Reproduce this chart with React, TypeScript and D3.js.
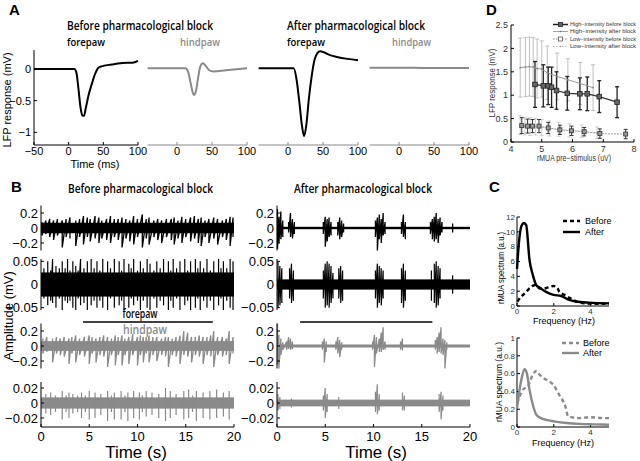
import React from 'react';
import * as d3 from 'd3';

type Pt = [number, number];
type Ev = [number, number, number];

// ---------- Panel A : mean LFP responses (time in ms, mV) ----------
const aForeBefore: Pt[] = [[-50,0],[0,0],[8,0],[11,-0.05],[14,-0.3],[17,-0.6],[20,-0.74],[22,-0.74],[25,-0.6],[29,-0.4],[33,-0.25],[38,-0.08],[43,0.02],[50,0.05],[62,0.07],[75,0.09],[85,0.1],[92,0.1],[100,0.13]];
const aHindBefore: Pt[] = [[-42,0.01],[12,0.01],[16,-0.05],[20,-0.25],[24,-0.41],[27,-0.35],[30,-0.15],[33,0.03],[37,0.09],[41,0.05],[46,-0.02],[52,-0.04],[70,-0.02],[100,0.01]];
const aForeAfter: Pt[] = [[-42,0.01],[8,0.01],[12,-0.15],[16,-0.5],[20,-0.9],[23,-1.06],[26,-0.9],[30,-0.45],[34,-0.1],[38,0.15],[42,0.25],[46,0.28],[52,0.26],[60,0.22],[70,0.19],[85,0.16],[100,0.14]];
const aHindAfter: Pt[] = [[-42,0.02],[20,0.02],[50,0.015],[100,0.015]];
const aYTicks = [-1, -0.5, 0];
const aYTickLabels = ['−1', '−0.5', '0'];
const aXTicksFirst = [-50, 0, 50, 100];
const aXTicks = [0, 50, 100];

// ---------- Panel B : raw traces, events [time s, max, min] ----------
const bTimeTicks = [0, 5, 10, 15, 20];
const bLfpTicks = [-0.2, 0, 0.2];
const bLfpTickLabels = ['−0.2', '0', '0.2'];
const bMuaForeTicks = [-0.05, 0, 0.05];
const bMuaForeTickLabels = ['−0.05', '0', '0.05'];
const bMuaHindTicks = [-0.02, 0, 0.02];
const bMuaHindTickLabels = ['−0.02', '0', '0.02'];
const bStimBefore = [4.35, 17.8];
const bStimAfter = [2.4, 16.1];
const bBandBefore = [0.07, 0.026, 0.065, 0.0075];
const bBandAfter = [0.016, 0.011, 0.02, 0.0045];

const beforeForeLfp: Ev[] = [[0.1,0.08,-0.1],[0.5,0.1,-0.08],[0.9,0.12,-0.12],[1.3,0.1,-0.16],[1.7,0.12,-0.1],[2.2,0.1,-0.26],[2.6,0.12,-0.12],[3.0,0.14,-0.14],[3.6,0.1,-0.24],[4.0,0.12,-0.12],[4.4,0.16,-0.22],[4.8,0.14,-0.12],[5.1,0.12,-0.18],[5.6,0.16,-0.14],[6.0,0.14,-0.2],[6.3,0.1,-0.14],[6.8,0.12,-0.16],[7.2,0.16,-0.2],[7.6,0.12,-0.12],[8.0,0.12,-0.16],[8.4,0.14,-0.26],[8.8,0.12,-0.14],[9.2,0.1,-0.18],[9.6,0.16,-0.22],[10.0,0.12,-0.12],[10.5,0.18,-0.26],[10.9,0.12,-0.14],[11.2,0.14,-0.22],[11.7,0.1,-0.12],[12.1,0.12,-0.16],[12.5,0.1,-0.2],[13.0,0.12,-0.12],[13.5,0.12,-0.16],[13.8,0.14,-0.22],[14.2,0.1,-0.14],[14.6,0.15,-0.2],[15.0,0.12,-0.12],[15.5,0.14,-0.18],[15.9,0.16,-0.14],[16.3,0.12,-0.2],[16.6,0.14,-0.24],[17.0,0.1,-0.12],[17.4,0.12,-0.2],[17.9,0.14,-0.14],[18.3,0.12,-0.22],[18.8,0.1,-0.12],[19.2,0.12,-0.16],[19.6,0.15,-0.24],[19.9,0.14,-0.12]];
const beforeForeMua: Ev[] = [[0.3,0.035,-0.03],[0.7,0.05,-0.045],[1.0,0.03,-0.035],[1.2,0.055,-0.04],[1.55,0.04,-0.05],[1.9,0.035,-0.03],[2.2,0.05,-0.055],[2.5,0.035,-0.035],[2.75,0.055,-0.04],[3.0,0.03,-0.035],[3.3,0.05,-0.05],[3.6,0.04,-0.055],[3.85,0.03,-0.03],[4.1,0.055,-0.045],[4.45,0.035,-0.04],[4.8,0.05,-0.055],[5.2,0.055,-0.045],[5.5,0.035,-0.035],[5.8,0.05,-0.05],[6.1,0.03,-0.035],[6.4,0.055,-0.05],[6.9,0.05,-0.055],[7.2,0.035,-0.03],[7.6,0.055,-0.05],[8.1,0.05,-0.045],[8.35,0.03,-0.035],[8.6,0.055,-0.055],[9.1,0.045,-0.05],[9.35,0.035,-0.03],[9.6,0.055,-0.045],[10.0,0.03,-0.035],[10.3,0.05,-0.055],[10.6,0.035,-0.035],[11.0,0.055,-0.05],[11.3,0.045,-0.055],[11.7,0.03,-0.03],[12.0,0.05,-0.05],[12.35,0.035,-0.035],[12.7,0.055,-0.045],[13.2,0.05,-0.055],[13.45,0.03,-0.035],[13.7,0.055,-0.05],[14.05,0.035,-0.03],[14.4,0.05,-0.055],[14.9,0.055,-0.045],[15.2,0.03,-0.035],[15.5,0.05,-0.055],[16.0,0.055,-0.05],[16.25,0.035,-0.03],[16.5,0.05,-0.055],[16.85,0.035,-0.035],[17.2,0.055,-0.05],[17.55,0.03,-0.035],[17.9,0.05,-0.055],[18.4,0.055,-0.045],[18.65,0.035,-0.03],[18.9,0.05,-0.055],[19.25,0.035,-0.035],[19.6,0.055,-0.05],[19.9,0.05,-0.055]];
const beforeHindLfp: Ev[] = [[0.2,0.1,-0.1],[0.6,0.12,-0.08],[1.2,0.1,-0.22],[1.6,0.12,-0.1],[2.0,0.1,-0.12],[2.4,0.12,-0.14],[2.9,0.1,-0.24],[3.2,0.12,-0.1],[3.6,0.14,-0.22],[4.0,0.1,-0.12],[4.5,0.12,-0.14],[5.0,0.14,-0.24],[5.3,0.12,-0.1],[5.7,0.1,-0.22],[6.1,0.12,-0.12],[6.5,0.14,-0.14],[6.9,0.12,-0.28],[7.3,0.1,-0.12],[7.7,0.14,-0.26],[8.0,0.12,-0.12],[8.4,0.14,-0.26],[8.7,0.1,-0.12],[9.1,0.12,-0.24],[9.5,0.16,-0.12],[10.0,0.12,-0.26],[10.3,0.14,-0.12],[10.6,0.12,-0.22],[10.9,0.12,-0.1],[11.2,0.14,-0.22],[11.6,0.12,-0.12],[12.0,0.12,-0.2],[12.5,0.1,-0.12],[12.9,0.12,-0.14],[13.2,0.12,-0.28],[13.6,0.1,-0.12],[14.0,0.12,-0.14],[14.4,0.14,-0.24],[14.8,0.2,-0.12],[15.2,0.18,-0.14],[15.6,0.12,-0.22],[16.0,0.12,-0.12],[16.4,0.14,-0.14],[16.8,0.12,-0.24],[17.2,0.12,-0.12],[17.6,0.14,-0.14],[17.9,0.2,-0.28],[18.3,0.12,-0.12],[18.8,0.12,-0.14],[19.2,0.1,-0.12],[19.5,0.2,-0.24],[19.9,0.12,-0.1]];
const beforeHindMua: Ev[] = [[0.5,0.012,-0.014],[1.0,0.014,-0.016],[1.5,0.01,-0.012],[2.2,0.016,-0.022],[2.6,0.01,-0.012],[2.9,0.014,-0.02],[3.3,0.012,-0.014],[3.8,0.01,-0.012],[4.2,0.014,-0.02],[4.6,0.01,-0.012],[5.0,0.016,-0.022],[5.6,0.014,-0.02],[6.2,0.012,-0.016],[6.9,0.016,-0.024],[7.3,0.01,-0.012],[7.6,0.014,-0.022],[8.3,0.016,-0.022],[8.7,0.01,-0.012],[9.0,0.014,-0.024],[9.6,0.016,-0.02],[10.2,0.014,-0.022],[10.5,0.01,-0.012],[10.9,0.016,-0.018],[11.5,0.014,-0.016],[12.2,0.012,-0.02],[12.9,0.02,-0.024],[13.4,0.016,-0.02],[14.0,0.012,-0.016],[14.8,0.016,-0.022],[15.3,0.018,-0.02],[15.7,0.01,-0.012],[16.1,0.016,-0.024],[16.8,0.014,-0.02],[17.5,0.016,-0.022],[18.2,0.018,-0.02],[18.9,0.014,-0.018],[19.5,0.016,-0.022]];

const afterForeLfp: Ev[] = [[0.05,0.25,-0.28],[0.2,0.15,-0.2],[0.4,0.22,-0.15],[0.6,0.1,-0.12],[1.2,0.08,-0.06],[1.4,0.2,-0.12],[1.6,0.12,-0.14],[1.8,0.08,-0.08],[4.8,0.08,-0.08],[5.0,0.15,-0.25],[5.2,0.12,-0.18],[5.4,0.14,-0.12],[5.6,0.08,-0.1],[6.3,0.08,-0.1],[6.5,0.14,-0.15],[6.7,0.1,-0.12],[6.9,0.06,-0.06],[10.2,0.1,-0.12],[10.4,0.14,-0.3],[10.6,0.18,-0.15],[10.8,0.12,-0.2],[11.0,0.2,-0.1],[11.2,0.08,-0.08],[12.9,0.08,-0.08],[13.1,0.18,-0.12],[13.3,0.08,-0.15],[15.9,0.08,-0.08],[16.1,0.12,-0.15],[16.3,0.15,-0.18],[16.5,0.2,-0.15],[16.7,0.12,-0.2],[16.9,0.14,-0.1],[17.1,0.08,-0.06],[18.2,0.06,-0.06]];
const afterForeMua: Ev[] = [[0.1,0.05,-0.05],[0.3,0.04,-0.045],[0.5,0.035,-0.04],[1.3,0.035,-0.03],[1.5,0.045,-0.04],[1.7,0.03,-0.035],[4.8,0.03,-0.03],[5.0,0.045,-0.05],[5.2,0.05,-0.045],[5.4,0.045,-0.05],[5.6,0.04,-0.04],[5.8,0.025,-0.03],[6.4,0.035,-0.03],[6.6,0.04,-0.04],[6.8,0.03,-0.035],[10.2,0.03,-0.03],[10.4,0.045,-0.05],[10.6,0.04,-0.04],[10.8,0.035,-0.045],[11.0,0.03,-0.03],[12.9,0.035,-0.04],[13.1,0.045,-0.05],[13.3,0.03,-0.035],[16.0,0.03,-0.035],[16.3,0.045,-0.04],[16.5,0.05,-0.05],[16.7,0.04,-0.045],[16.9,0.035,-0.03],[18.2,0.02,-0.02]];
const afterHindLfp: Ev[] = [[0.05,0.3,-0.25],[0.2,0.15,-0.3],[0.4,0.1,-0.12],[0.6,0.05,-0.05],[1.0,0.06,-0.05],[1.2,0.12,-0.04],[1.4,0.1,-0.05],[1.6,0.06,-0.04],[4.7,0.06,-0.05],[4.9,0.1,-0.22],[5.1,0.06,-0.08],[6.1,0.06,-0.05],[6.3,0.12,-0.1],[6.5,0.08,-0.15],[6.7,0.05,-0.05],[9.9,0.06,-0.05],[10.1,0.15,-0.28],[10.3,0.12,-0.1],[10.6,0.1,-0.08],[10.8,0.18,-0.08],[11.0,0.25,-0.05],[11.2,0.06,-0.05],[12.8,0.06,-0.05],[13.0,0.1,-0.06],[16.4,0.08,-0.05],[16.6,0.12,-0.1],[16.8,0.18,-0.08],[17.0,0.25,-0.1],[17.2,0.1,-0.12],[17.4,0.08,-0.3],[17.6,0.05,-0.05]];
const afterHindMua: Ev[] = [[0.1,0.012,-0.01],[0.3,0.008,-0.008],[1.5,0.006,-0.006],[4.8,0.01,-0.01],[5.0,0.02,-0.02],[5.2,0.012,-0.012],[6.4,0.008,-0.008],[10.2,0.015,-0.012],[10.4,0.025,-0.015],[10.6,0.012,-0.01],[13.0,0.014,-0.01],[13.2,0.01,-0.01],[16.8,0.012,-0.012],[17.0,0.015,-0.022],[17.2,0.01,-0.01]];

// ---------- Panel C : spectra ----------
const cFreqAfterTop = [0, 0.1, 0.23, 0.38, 0.5, 0.68, 0.86, 1.05, 1.22, 1.58, 1.98, 2.4, 2.76, 3.2, 3.93, 5.0];
const cAfterTop = [5, 8.4, 10.7, 11.2, 10.9, 6.2, 4.2, 2.8, 2.5, 1.9, 1.5, 1.35, 0.9, 0.6, 0.45, 0.35];
const cFreqBeforeTop = [0.02, 0.23, 0.5, 0.77, 0.95, 1.2, 1.45, 1.68, 1.98, 2.2, 2.3, 2.58, 3.0, 3.4, 4.1, 5.0];
const cBeforeTop = [0.6, 1.25, 1.9, 2.6, 2.8, 2.4, 2.35, 2.5, 2.7, 2.4, 1.9, 1.5, 0.9, 0.45, 0.3, 0.3];
const cFreqBeforeBot = [0, 0.14, 0.32, 0.6, 0.86, 1.05, 1.22, 1.58, 1.95, 2.3, 2.63, 2.78, 3.4, 3.93, 4.74, 5.0];
const cBeforeBot = [0.27, 0.34, 0.42, 0.46, 0.59, 0.63, 0.59, 0.53, 0.48, 0.36, 0.23, 0.12, 0.1, 0.11, 0.1, 0.1];
const cFreqAfterBot = [0, 0.14, 0.29, 0.41, 0.54, 0.68, 0.86, 1.05, 1.3, 1.6, 2.1, 2.7, 3.4, 4.2, 5.0];
const cAfterBot = [0.21, 0.42, 0.58, 0.65, 0.6, 0.42, 0.25, 0.14, 0.1, 0.08, 0.06, 0.045, 0.035, 0.03, 0.025];
const cTopYTicks = [0, 2, 4, 6, 8, 10, 12];
const cBotYTicks = [0, 0.2, 0.4, 0.6, 0.8, 1];
const cXTicks = [0, 2, 4];

// ---------- Panel D : LFP vs rMUA ----------
const dXHiBefore = [4.78, 5.05, 5.21, 5.32, 5.48, 5.83, 6.24, 6.48, 6.87, 7.45];
const dYHiBefore = [1.23, 1.2, 1.2, 1.17, 1.1, 1.04, 1.03, 1.03, 0.97, 0.85];
const dEHiBefore = [0.49, 0.45, 0.4, 0.43, 0.4, 0.36, 0.34, 0.36, 0.34, 0.33];
const dXHiAfter = [4.3, 4.47, 4.6, 4.72, 4.85, 5.0, 5.18, 5.5, 5.85, 6.25, 6.67];
const dYHiAfter = [1.59, 1.6, 1.61, 1.6, 1.57, 1.56, 1.48, 1.4, 1.33, 1.25, 1.16];
const dEHiAfter = [0.63, 0.63, 0.63, 0.63, 0.63, 0.6, 0.57, 0.5, 0.45, 0.45, 0.49];
const dXLoBefore = [4.35, 4.54, 4.7, 4.91, 5.21, 5.59, 5.97, 6.38, 6.89, 7.73];
const dYLoBefore = [0.35, 0.34, 0.34, 0.34, 0.3, 0.26, 0.24, 0.22, 0.18, 0.17];
const dELoBefore = [0.17, 0.15, 0.14, 0.14, 0.12, 0.1, 0.1, 0.09, 0.1, 0.1];
const dXLoAfter = [4.3, 4.45, 4.62, 4.8, 5.0, 5.25, 5.55, 5.9, 6.3, 6.8];
const dYLoAfter = [0.36, 0.34, 0.33, 0.33, 0.31, 0.29, 0.27, 0.25, 0.23, 0.2];
const dELoAfter = [0.2, 0.19, 0.19, 0.18, 0.17, 0.16, 0.15, 0.14, 0.13, 0.12];
const dXTicks = [4, 5, 6, 7, 8];
const dYTicks = [0, 0.5, 1, 1.5, 2, 2.5];
const dLegend = ['High−intensity before block', 'High−intensity after block', 'Low−intensity before block', 'Low−intensity after block'];

const SANS = "'Liberation Sans', Arial, Helvetica, sans-serif";
const TITLE = "'Open Sans', 'Noto Sans', sans-serif";
const GRAY = '#8a8a8a';

type Lin = d3.ScaleLinear<number, number>;

function YAxis({ s, x, ticks, labels, fs, color = '#000', textColor = '#000', gap = 3 }: { s: Lin; x: number; ticks: number[]; labels?: string[]; fs: number; color?: string; textColor?: string; gap?: number }) {
  const [r0, r1] = s.range();
  return (
    <g>
      <line x1={x} x2={x} y1={r0} y2={r1} stroke={color} strokeWidth={1} />
      {ticks.map((t, i) => (
        <g key={i}>
          <line x1={x} x2={x + 3} y1={s(t)} y2={s(t)} stroke={color} strokeWidth={1} />
          <text x={x - gap} y={s(t)} dy="0.35em" textAnchor="end" fontSize={fs} fontFamily={SANS} fill={textColor}>
            {labels ? labels[i] : String(t)}
          </text>
        </g>
      ))}
    </g>
  );
}

function XAxis({ s, y, ticks, labels, fs, labelY, color = '#000', textColor = '#000' }: { s: Lin; y: number; ticks: number[]; labels?: string[]; fs: number; labelY: number; color?: string; textColor?: string }) {
  const [r0, r1] = s.range();
  return (
    <g>
      <line x1={r0} x2={r1} y1={y} y2={y} stroke={color} strokeWidth={1} />
      {ticks.map((t, i) => (
        <g key={i}>
          <line x1={s(t)} x2={s(t)} y1={y} y2={y - 3} stroke={color} strokeWidth={1} />
          <text x={s(t)} y={labelY} textAnchor="middle" fontSize={fs} fontFamily={SANS} fill={textColor}>
            {labels ? labels[i] : String(t)}
          </text>
        </g>
      ))}
    </g>
  );
}

function Trace({ x, y, band, events, color, maxGap, width }: { x: Lin; y: Lin; band: number; events: Ev[]; color: string; maxGap: number; width: number }) {
  const groups: Ev[][] = [];
  events.forEach((e) => {
    const g = groups[groups.length - 1];
    if (g && e[0] - g[g.length - 1][0] < maxGap) g.push(e);
    else groups.push([e]);
  });
  const line = d3.line<Pt>().x((d) => x(d[0])).y((d) => y(d[1]));
  const [x0, x1] = x.domain();
  return (
    <g>
      <rect x={x(x0)} width={x(x1) - x(x0)} y={y(band)} height={y(-band) - y(band)} fill={color} />
      {groups.map((g, i) => {
        const pts: Pt[] = [];
        g.forEach((e) => { pts.push([e[0], e[1]]); pts.push([e[0], e[2]]); });
        return <path key={i} d={line(pts) || ''} fill="none" stroke={color} strokeWidth={width} strokeLinejoin="miter" />;
      })}
    </g>
  );
}

export default function App() {
  // ---- A ----
  const aY = d3.scaleLinear().domain([-1.2, 0.3]).range([145, 50]);
  const aX1 = d3.scaleLinear().domain([-50, 100]).range([34, 138]);
  const mkA = (zero: number) => d3.scaleLinear().domain([-42, 100]).range([zero - 42 * 0.7, zero + 70]);
  const aX2 = mkA(177), aX3 = mkA(288), aX4 = mkA(399);
  const aLine = (sx: Lin) => d3.line<Pt>().x((d) => sx(d[0])).y((d) => aY(d[1])).curve(d3.curveMonotoneX);

  // ---- B ----
  const bXL = d3.scaleLinear().domain([0, 20]).range([41, 234]);
  const bXR = d3.scaleLinear().domain([0, 20]).range([277, 470]);
  const bY = [
    d3.scaleLinear().domain([-0.3, 0.3]).range([250.5, 205.5]).clamp(true),
    d3.scaleLinear().domain([-0.055, 0.055]).range([310, 259]).clamp(true),
    d3.scaleLinear().domain([-0.3, 0.3]).range([368.5, 323.5]).clamp(true),
    d3.scaleLinear().domain([-0.032, 0.028]).range([427, 382]).clamp(true),
  ];
  const bTicks = [bLfpTicks, bMuaForeTicks, bLfpTicks, bMuaHindTicks];
  const bTickLabels = [bLfpTickLabels, bMuaForeTickLabels, bLfpTickLabels, bMuaHindTickLabels];
  const beforeEvents = [beforeForeLfp, beforeForeMua, beforeHindLfp, beforeHindMua];
  const afterEvents = [afterForeLfp, afterForeMua, afterHindLfp, afterHindMua];
  const bColors = ['#000', '#000', GRAY, GRAY];
  const bGaps = [0.6, 0.25, 0.6, 0.25];
  const bWidths = [1.3, 1.2, 1.3, 1.2];

  // ---- C ----
  const cX = d3.scaleLinear().domain([0, 5]).range([517, 609]);
  const cYT = d3.scaleLinear().domain([0, 12]).range([306, 217]);
  const cYB = d3.scaleLinear().domain([0, 1]).range([427, 338]);
  const cLine = (sy: Lin, fx: number[], v: number[]) =>
    d3.line<number>().x((_, i) => cX(fx[i])).y((d) => sy(d)).curve(d3.curveMonotoneX)(v) || '';

  // ---- D ----
  const dX = d3.scaleLinear().domain([4, 8]).range([511, 634]);
  const dY = d3.scaleLinear().domain([0, 2.5]).range([142, 25]);
  const dLine = (xs: number[], ys: number[]) => d3.line<number>().x((_, i) => dX(xs[i])).y((d) => dY(d))(ys) || '';
  const errBars = (xs: number[], ys: number[], es: number[], color: string, w: number) =>
    xs.map((xv, i) => (
      <g key={i} stroke={color} strokeWidth={w}>
        <line x1={dX(xv)} x2={dX(xv)} y1={dY(ys[i] - es[i])} y2={dY(ys[i] + es[i])} />
        <line x1={dX(xv) - 2} x2={dX(xv) + 2} y1={dY(ys[i] - es[i])} y2={dY(ys[i] - es[i])} />
        <line x1={dX(xv) - 2} x2={dX(xv) + 2} y1={dY(ys[i] + es[i])} y2={dY(ys[i] + es[i])} />
      </g>
    ));

  const legendRows = [24.5, 31.5, 39, 46.5];

  return (
    <svg width={640} height={461} style={{ position: 'absolute', left: 0, top: 0, background: '#fff' }}>
      <rect width={640} height={461} fill="#fff" />
      {/* ===== Panel A ===== */}
      <text x={9} y={15} fontSize={15} fontWeight="bold" fontFamily={SANS}>A</text>
      <text x={67} y={30} fontSize={12.5} fontWeight={600} fontFamily={TITLE} textLength={146} lengthAdjust="spacingAndGlyphs">Before pharmacological block</text>
      <text x={287} y={30} fontSize={12.5} fontWeight={600} fontFamily={TITLE} textLength={138} lengthAdjust="spacingAndGlyphs">After pharmacological block</text>
      <text x={67} y={46} fontSize={11.5} fontWeight={600} fontFamily={TITLE} textLength={38} lengthAdjust="spacingAndGlyphs">forepaw</text>
      <text x={180} y={46} fontSize={11.5} fontWeight={600} fontFamily={TITLE} fill={GRAY} textLength={40} lengthAdjust="spacingAndGlyphs">hindpaw</text>
      <text x={287} y={46} fontSize={11.5} fontWeight={600} fontFamily={TITLE} textLength={38} lengthAdjust="spacingAndGlyphs">forepaw</text>
      <text x={392} y={46} fontSize={11.5} fontWeight={600} fontFamily={TITLE} fill={GRAY} textLength={39} lengthAdjust="spacingAndGlyphs">hindpaw</text>

      <YAxis s={aY} x={34} ticks={aYTicks} labels={aYTickLabels} fs={11} />
      <XAxis s={aX1} y={145} ticks={aXTicksFirst} labels={aXTicksFirst.map((t) => (t < 0 ? '−' + Math.abs(t) : String(t)))} fs={11} labelY={155} />
      <XAxis s={aX2} y={145} ticks={aXTicks} fs={11} labelY={155} color="#888" />
      <XAxis s={aX3} y={145} ticks={aXTicks} fs={11} labelY={155} color="#888" />
      <XAxis s={aX4} y={145} ticks={aXTicks} fs={11} labelY={155} color="#888" />
      <path d={aLine(aX1)(aForeBefore) || ''} fill="none" stroke="#000" strokeWidth={2} />
      <path d={aLine(aX2)(aHindBefore) || ''} fill="none" stroke={GRAY} strokeWidth={2} />
      <path d={aLine(aX3)(aForeAfter) || ''} fill="none" stroke="#000" strokeWidth={2} />
      <path d={aLine(aX4)(aHindAfter) || ''} fill="none" stroke={GRAY} strokeWidth={2} />
      <text transform="translate(11,100) rotate(-90)" textAnchor="middle" fontSize={11} fontFamily={SANS}>LFP response (mV)</text>
      <text x={95} y={168} textAnchor="middle" fontSize={11} fontFamily={SANS}>Time (ms)</text>

      {/* ===== Panel D ===== */}
      <text x={486} y={15} fontSize={15} fontWeight="bold" fontFamily={SANS}>D</text>
      <YAxis s={dY} x={511} ticks={dYTicks} fs={9} textColor="#333" />
      <XAxis s={dX} y={142} ticks={dXTicks} fs={9} labelY={152} textColor="#333" />
      <text transform="translate(495,83) rotate(-90)" textAnchor="middle" fontSize={9} fontFamily={SANS} fill="#333" textLength={69} lengthAdjust="spacingAndGlyphs">LFP response (mV)</text>
      <text x={574} y={161} textAnchor="middle" fontSize={9} fontFamily={SANS} fill="#333" textLength={74} lengthAdjust="spacingAndGlyphs">rMUA pre−stimulus (uV)</text>
      {errBars(dXLoAfter, dYLoAfter, dELoAfter, '#c4c4c4', 0.8)}
      {errBars(dXHiAfter, dYHiAfter, dEHiAfter, '#b0b0b0', 0.8)}
      {errBars(dXLoBefore, dYLoBefore, dELoBefore, '#333', 1)}
      {errBars(dXHiBefore, dYHiBefore, dEHiBefore, '#222', 1.3)}
      <path d={dLine(dXLoAfter, dYLoAfter)} fill="none" stroke="#bbb" strokeWidth={0.8} strokeDasharray="1.5,1.5" />
      <path d={dLine(dXHiAfter, dYHiAfter)} fill="none" stroke="#999" strokeWidth={1} />
      <path d={dLine(dXLoBefore, dYLoBefore)} fill="none" stroke="#666" strokeWidth={0.8} strokeDasharray="1.5,1.5" />
      <path d={dLine(dXHiBefore, dYHiBefore)} fill="none" stroke="#333" strokeWidth={1.3} />
      {dXHiAfter.map((xv, i) => <circle key={i} cx={dX(xv)} cy={dY(dYHiAfter[i])} r={0.9} fill="#888" />)}
      {dXLoAfter.map((xv, i) => <circle key={i} cx={dX(xv)} cy={dY(dYLoAfter[i])} r={0.8} fill="#aaa" />)}
      {dXLoBefore.map((xv, i) => <rect key={i} x={dX(xv) - 2} y={dY(dYLoBefore[i]) - 2} width={4} height={4} fill="#999" stroke="#333" strokeWidth={0.8} />)}
      {dXHiBefore.map((xv, i) => <rect key={i} x={dX(xv) - 2.3} y={dY(dYHiBefore[i]) - 2.3} width={4.6} height={4.6} fill="#666" stroke="#222" strokeWidth={0.8} />)}
      {/* legend */}
      <g>
        <line x1={553} x2={568} y1={legendRows[0]} y2={legendRows[0]} stroke="#222" strokeWidth={1.5} />
        <rect x={558.5} y={legendRows[0] - 2} width={4} height={4} fill="#666" stroke="#222" strokeWidth={0.8} />
        <line x1={553} x2={568} y1={legendRows[1]} y2={legendRows[1]} stroke="#888" strokeWidth={0.8} />
        <circle cx={560.5} cy={legendRows[1]} r={0.8} fill="#666" />
        <line x1={553} x2={568} y1={legendRows[2]} y2={legendRows[2]} stroke="#666" strokeWidth={0.8} strokeDasharray="1.5,1.5" />
        <rect x={558.5} y={legendRows[2] - 2} width={4} height={4} fill="#fff" stroke="#555" strokeWidth={0.8} />
        <line x1={553} x2={568} y1={legendRows[3]} y2={legendRows[3]} stroke="#aaa" strokeWidth={0.8} strokeDasharray="1.5,1.5" />
        <circle cx={560.5} cy={legendRows[3]} r={0.8} fill="#999" />
        {dLegend.map((t, i) => (
          <text key={i} x={570} y={legendRows[i]} dy="0.35em" fontSize={5} fontFamily={SANS} fill="#333" textLength={66} lengthAdjust="spacingAndGlyphs">{t}</text>
        ))}
      </g>

      {/* ===== Panel B ===== */}
      <text x={11} y={192} fontSize={15} fontWeight="bold" fontFamily={SANS}>B</text>
      <text x={68} y={193} fontSize={13} fontWeight={600} fontFamily={TITLE} textLength={145} lengthAdjust="spacingAndGlyphs">Before pharmacological block</text>
      <text x={294} y={193} fontSize={13} fontWeight={600} fontFamily={TITLE} textLength={138} lengthAdjust="spacingAndGlyphs">After pharmacological block</text>
      {bY.map((sy, k) => (
        <g key={k}>
          <Trace x={bXL} y={sy} band={bBandBefore[k]} events={beforeEvents[k]} color={bColors[k]} maxGap={bGaps[k]} width={bWidths[k]} />
          <Trace x={bXR} y={sy} band={bBandAfter[k]} events={afterEvents[k]} color={bColors[k]} maxGap={bGaps[k]} width={bWidths[k]} />
          <YAxis s={sy} x={41} ticks={bTicks[k]} labels={bTickLabels[k]} fs={13} />
          <YAxis s={sy} x={277} ticks={bTicks[k]} labels={bTickLabels[k]} fs={13} />
        </g>
      ))}
      <XAxis s={bXL} y={427} ticks={bTimeTicks} fs={13} labelY={441} />
      <XAxis s={bXR} y={427} ticks={bTimeTicks} fs={13} labelY={441} />
      <line x1={bXL(bStimBefore[0])} x2={bXL(bStimBefore[1])} y1={322} y2={322} stroke="#000" strokeWidth={1.5} />
      <line x1={bXR(bStimAfter[0])} x2={bXR(bStimAfter[1])} y1={322} y2={322} stroke="#000" strokeWidth={1.5} />
      <text x={140} y={318} textAnchor="middle" fontSize={12} fontWeight={600} fontFamily={TITLE} textLength={35} lengthAdjust="spacingAndGlyphs">forepaw</text>
      <text x={145} y={334} textAnchor="middle" fontSize={12} fontWeight={600} fontFamily={TITLE} fill={GRAY} textLength={44} lengthAdjust="spacingAndGlyphs">hindpaw</text>
      <text transform="translate(13,316) rotate(-90)" textAnchor="middle" fontSize={13} fontFamily={SANS}>Amplitude (mV)</text>
      <text x={136} y={458} textAnchor="middle" fontSize={17} fontFamily={SANS}>Time (s)</text>
      <text x={376} y={458} textAnchor="middle" fontSize={17} fontFamily={SANS}>Time (s)</text>

      {/* ===== Panel C ===== */}
      <text x={489} y={192} fontSize={15} fontWeight="bold" fontFamily={SANS}>C</text>
      <YAxis s={cYT} x={517} ticks={cTopYTicks} fs={8} textColor="#333" gap={2} />
      <XAxis s={cX} y={306} ticks={cXTicks} fs={8} labelY={313.5} textColor="#333" />
      <path d={cLine(cYT, cFreqBeforeTop, cBeforeTop)} fill="none" stroke="#000" strokeWidth={2.4} strokeDasharray="4,3" />
      <path d={cLine(cYT, cFreqAfterTop, cAfterTop)} fill="none" stroke="#000" strokeWidth={2.4} />
      <text transform="translate(504,268) rotate(-90)" textAnchor="middle" fontSize={9} fontFamily={SANS} textLength={72} lengthAdjust="spacingAndGlyphs">rMUA spectrum (a.u.)</text>
      <text x={564} y={323.5} textAnchor="middle" fontSize={9} fontFamily={SANS} textLength={62} lengthAdjust="spacingAndGlyphs">Frequency (Hz)</text>
      <line x1={563} x2={580} y1={221} y2={221} stroke="#000" strokeWidth={2.4} strokeDasharray="4,3" />
      <line x1={563} x2={580} y1={232} y2={232} stroke="#000" strokeWidth={2.4} />
      <text x={585} y={221} dy="0.35em" fontSize={9} fontFamily={SANS}>Before</text>
      <text x={585} y={232} dy="0.35em" fontSize={9} fontFamily={SANS}>After</text>

      <YAxis s={cYB} x={517} ticks={cBotYTicks} fs={8} textColor="#333" gap={2} />
      <XAxis s={cX} y={427} ticks={cXTicks} fs={8} labelY={434.5} textColor="#333" />
      <path d={cLine(cYB, cFreqBeforeBot, cBeforeBot)} fill="none" stroke={GRAY} strokeWidth={2.4} strokeDasharray="4,3" />
      <path d={cLine(cYB, cFreqAfterBot, cAfterBot)} fill="none" stroke={GRAY} strokeWidth={2.4} />
      <text transform="translate(502,382) rotate(-90)" textAnchor="middle" fontSize={9} fontFamily={SANS} textLength={80} lengthAdjust="spacingAndGlyphs">rMUA spectrum (a.u.)</text>
      <text x={563} y={446} textAnchor="middle" fontSize={9} fontFamily={SANS} textLength={62} lengthAdjust="spacingAndGlyphs">Frequency (Hz)</text>
      <line x1={562} x2={579} y1={343} y2={343} stroke={GRAY} strokeWidth={2.4} strokeDasharray="4,3" />
      <line x1={562} x2={579} y1={353} y2={353} stroke={GRAY} strokeWidth={2.4} />
      <text x={583} y={343} dy="0.35em" fontSize={9} fontFamily={SANS}>Before</text>
      <text x={583} y={353} dy="0.35em" fontSize={9} fontFamily={SANS}>After</text>
    </svg>
  );
}
